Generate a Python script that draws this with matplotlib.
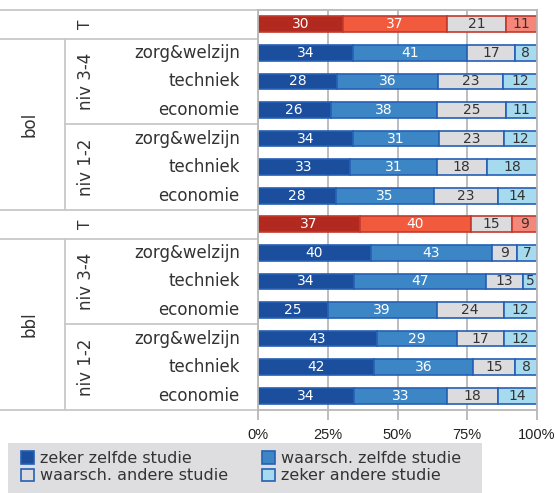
import matplotlib.pyplot as plt
import matplotlib.transforms as mtransforms
from matplotlib.patches import Patch, Rectangle
import numpy as np

plt.rcParams['font.family'] = ['DejaVu Sans']

# rows from top to bottom
row_labels = ['T', 'zorg&welzijn', 'techniek', 'economie', 'zorg&welzijn', 'techniek', 'economie',
              'T', 'zorg&welzijn', 'techniek', 'economie', 'zorg&welzijn', 'techniek', 'economie']
is_total = [True, False, False, False, False, False, False,
            True, False, False, False, False, False, False]

zeker_zelfde = [30, 34, 28, 26, 34, 33, 28, 37, 40, 34, 25, 43, 42, 34]
waarsch_zelfde = [37, 41, 36, 38, 31, 31, 35, 40, 43, 47, 39, 29, 36, 33]
waarsch_andere = [21, 17, 23, 25, 23, 18, 23, 15, 9, 13, 24, 17, 15, 18]
zeker_andere = [11, 8, 12, 11, 12, 18, 14, 9, 7, 5, 12, 12, 8, 14]

series_names = ['zeker zelfde studie', 'waarsch. zelfde studie',
                'waarsch. andere studie', 'zeker andere studie']
x_ticks = [0, 25, 50, 75, 100]

blue_cols = ['#1B4F9E', '#3D86C6', '#DCDCDE', '#A6DAEE']
red_cols = ['#B2291F', '#F25A3D', '#DCDCDE', '#F4877A']
blue_edge = '#2560B5'
red_edge = '#C23A2C'
text_cols = ['white', 'white', '#333333', '#333333']
grid_col = '#B8B8B8'

fig = plt.figure(figsize=(5.56, 4.93), dpi=100)
ax = fig.add_axes([258 / 556, 83 / 493, 279 / 556, 400 / 493])

data = np.array([zeker_zelfde, waarsch_zelfde, waarsch_andere, zeker_andere], dtype=float)
pct = data / data.sum(axis=0) * 100
n = len(row_labels)
ypos = np.arange(n)[::-1]

for xt in x_ticks:
    ax.axvline(xt, color=grid_col, lw=1.3, zorder=0)

left = np.zeros(n)
for k in range(4):
    for i in range(n):
        fc = red_cols[k] if is_total[i] else blue_cols[k]
        ec = red_edge if is_total[i] else blue_edge
        ax.barh(ypos[i], pct[k, i], left=left[i], height=0.55, color=fc,
                edgecolor=ec, linewidth=1.2, zorder=2)
        ax.text(left[i] + pct[k, i] / 2, ypos[i], str(int(data[k, i])),
                ha='center', va='center', fontsize=10, color=text_cols[k], zorder=3)
    left += pct[k]

ax.set_xlim(0, 100)
ax.set_ylim(-0.5, n - 0.5)
ax.set_yticks([])
ax.set_xticks(x_ticks)
ax.set_xticklabels([f'{t}%' for t in x_ticks], fontsize=10.5, color='#222222',
                   family='Liberation Sans')
ax.tick_params(axis='x', length=7, width=1.3, color=grid_col, pad=6)
for sp in ax.spines.values():
    sp.set_color(grid_col)
    sp.set_linewidth(1.3)

# left-hand category structure
trans = mtransforms.blended_transform_factory(ax.transAxes, ax.transData)
for i in range(n):
    if is_total[i]:
        ax.text(-0.62, ypos[i], 'T', rotation=90, ha='center', va='center',
                fontsize=11, color='#333333', transform=trans)
    else:
        ax.text(-0.065, ypos[i], row_labels[i], ha='right', va='center',
                fontsize=12, color='#333333', transform=trans)

for y0, lbl in [(10, 'niv 3-4'), (7, 'niv 1-2'), (3, 'niv 3-4'), (0, 'niv 1-2')]:
    ax.text(-0.615, y0 + 1, lbl, rotation=90, ha='center', va='center',
            fontsize=12, color='#333333', transform=trans)
for yc, lbl in [(9.5, 'bol'), (2.5, 'bbl')]:
    ax.text(-0.82, yc, lbl, rotation=90, ha='center', va='center',
            fontsize=12, color='#333333', transform=trans)

line_kw = dict(color='#C8C8C8', lw=1.3, transform=trans, clip_on=False)
for yb in [13.5, 12.5, 6.5, 5.5, -0.5]:
    ax.plot([-0.93, 0], [yb, yb], **line_kw)
for yb in [9.5, 2.5]:
    ax.plot([-0.692, 0], [yb, yb], **line_kw)
for y_a, y_b in [(12.5, 6.5), (5.5, -0.5)]:
    ax.plot([-0.692, -0.692], [y_a, y_b], **line_kw)

# legend background box
fig.patches.append(Rectangle((8 / 556, 0), 474 / 556, 50 / 493, transform=fig.transFigure,
                             facecolor='#DEDEE0', edgecolor='none', zorder=0))
handles = [Patch(facecolor=blue_cols[k], edgecolor=blue_edge, linewidth=1.2)
           for k in range(4)]
order = [0, 2, 1, 3]
leg = fig.legend([handles[k] for k in order], [series_names[k] for k in order],
                 ncol=2, loc='upper left', bbox_to_anchor=(21 / 556, 42 / 493),
                 borderaxespad=0, borderpad=0, fontsize=11.5, frameon=False,
                 handlelength=0.8, handleheight=0.8, handletextpad=0.4,
                 labelspacing=0.15, columnspacing=2.1)
for t in leg.get_texts():
    t.set_color('#333333')

fig.savefig('out.png', dpi=100)
